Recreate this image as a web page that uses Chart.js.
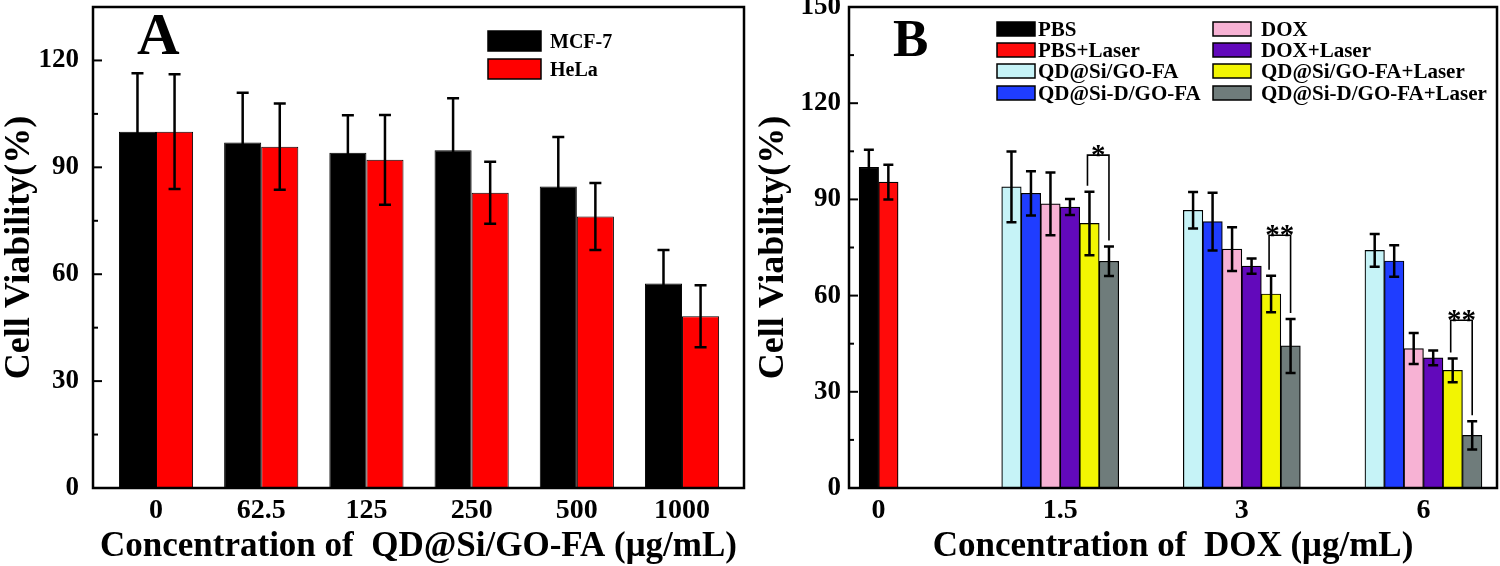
<!DOCTYPE html>
<html>
<head>
<meta charset="utf-8">
<script src="https://cdn.jsdelivr.net/npm/chart.js@4.4.1/dist/chart.umd.min.js"></script>
<style>
  html, body { margin: 0; padding: 0; background: #fff; }
  #wrap { position: relative; width: 1500px; height: 566px; }
  canvas { position: absolute; top: 0; }
  #chartA { left: 0; }
  #chartB { left: 750px; }
</style>
</head>
<body>
<div id="wrap">
  <canvas id="chartA" width="750" height="566"></canvas>
  <canvas id="chartB" width="750" height="566"></canvas>
</div>
<script>
// ---- panel A data ----
const concA = ['0', '62.5', '125', '250', '500', '1000'];
const mcf7 = [100, 97, 94.1, 94.8, 84.6, 57.4];
const mcf7Err = [16.4, 13.9, 10.5, 14.6, 13.9, 9.4];
const hela = [100, 95.8, 92.1, 82.9, 76.2, 48.2];
const helaErr = [16.1, 12.1, 12.6, 8.7, 9.4, 8.7];
const yTicksA = [0, 30, 60, 90, 120];

// ---- panel B data ----
const concB = ['0', '1.5', '3', '6'];
const labelsB = ['PBS', 'PBS+Laser', 'QD@Si/GO-FA', 'QD@Si-D/GO-FA',
  'DOX', 'DOX+Laser', 'QD@Si/GO-FA+Laser', 'QD@Si-D/GO-FA+Laser'];
const pbs = [100, null, null, null];
const pbsLaser = [95.4, null, null, null];
const qdSi = [null, 93.9, 86.6, 74.1];
const qdSiD = [null, 91.9, 83.1, 70.8];
const dox = [null, 88.6, 74.5, 43.5];
const doxLaser = [null, 87.6, 69.2, 40.6];
const qdSiLaser = [null, 82.5, 60.5, 36.7];
const qdSiDLaser = [null, 70.7, 44.3, 16.4];
const pbsErr = [5.5, null, null, null];
const pbsLaserErr = [5.4, null, null, null];
const qdSiErr = [null, 11, 5.7, 5.1];
const qdSiDErr = [null, 6.9, 9.0, 4.9];
const doxErr = [null, 9.8, 6.8, 4.8];
const doxLaserErr = [null, 2.5, 2.4, 2.3];
const qdSiLaserErr = [null, 9.9, 5.7, 3.7];
const qdSiDLaserErr = [null, 4.6, 8.4, 4.4];
const yTicksB = [0, 30, 60, 90, 120, 150];
// significance brackets: group index, bracket height, label
const sigGroups = [1, 2, 3];
const sigHeights = [103.8, 78.8, 52.3];
const sigLabels = ['*', '**', '**'];

const SERIF = '"Liberation Serif", "Times New Roman", serif';
const colorsA = ['#000000', '#ff0000'];
const colorsB = ['#000000', '#ff0a0a', '#c6f3f7', '#1f3dff',
  '#f7b2d4', '#6209bb', '#f2f502', '#6f7c7b'];

// error bars drawn on top of bars
const errorBars = {
  id: 'errorBars',
  afterDatasetsDraw(chart, args, opts) {
    const { ctx } = chart;
    const y = chart.scales.y;
    ctx.save();
    ctx.strokeStyle = '#000';
    ctx.lineWidth = opts.lineWidth;
    chart.data.datasets.forEach((ds, di) => {
      const meta = chart.getDatasetMeta(di);
      meta.data.forEach((bar, i) => {
        const v = ds.data[i].y, e = ds.errors[i];
        if (v == null || e == null) return;
        const top = y.getPixelForValue(v + e);
        const bot = y.getPixelForValue(v - e);
        const c = opts.cap / 2;
        ctx.beginPath();
        ctx.moveTo(bar.x, top); ctx.lineTo(bar.x, bot);
        ctx.moveTo(bar.x - c, top); ctx.lineTo(bar.x + c, top);
        ctx.moveTo(bar.x - c, bot); ctx.lineTo(bar.x + c, bot);
        ctx.stroke();
      });
    });
    ctx.restore();
  }
};

// box frame, inward ticks, legend and panel letter
const frame = {
  id: 'frame',
  afterDraw(chart, args, opts) {
    const { ctx, chartArea: a } = chart;
    const y = chart.scales.y;
    ctx.save();
    ctx.strokeStyle = '#000';
    ctx.lineWidth = 2.5;
    ctx.strokeRect(a.left, a.top, a.right - a.left, a.bottom - a.top);

    ctx.lineWidth = 2;
    const majors = opts.ticks;
    const step = majors[1] - majors[0];
    majors.forEach(v => {
      const py = y.getPixelForValue(v);
      ctx.beginPath(); ctx.moveTo(a.left, py); ctx.lineTo(a.left + 9, py); ctx.stroke();
      const m = v + step / 2;
      if (m < y.max) {
        const pm = y.getPixelForValue(m);
        ctx.beginPath(); ctx.moveTo(a.left, pm); ctx.lineTo(a.left + 5, pm); ctx.stroke();
      }
    });

    // legend
    const L = opts.legend;
    ctx.font = 'bold ' + L.font + 'px ' + SERIF;
    ctx.textAlign = 'left';
    ctx.textBaseline = 'alphabetic';
    chart.data.datasets.forEach((ds, i) => {
      const col = Math.floor(i / L.rows.length);
      const row = i % L.rows.length;
      const cy = L.rows[row];
      ctx.fillStyle = ds.backgroundColor;
      ctx.fillRect(L.boxX[col], cy - L.boxH / 2, L.boxW, L.boxH);
      ctx.lineWidth = 1.5;
      ctx.strokeStyle = '#000';
      ctx.strokeRect(L.boxX[col], cy - L.boxH / 2, L.boxW, L.boxH);
      ctx.fillStyle = '#000';
      ctx.fillText(ds.label, L.textX[col], cy + L.font * 0.33);
    });

    // panel letter
    ctx.font = 'bold ' + opts.letterSize + 'px ' + SERIF;
    ctx.fillText(opts.letter, opts.letterX, opts.letterY);
    ctx.restore();
  }
};

// significance brackets for panel B
const brackets = {
  id: 'brackets',
  afterDatasetsDraw(chart) {
    const { ctx } = chart;
    const y = chart.scales.y;
    const dsA = chart.data.datasets[6], dsB = chart.data.datasets[7];
    const mA = chart.getDatasetMeta(6), mB = chart.getDatasetMeta(7);
    ctx.save();
    ctx.strokeStyle = '#000';
    ctx.lineWidth = 1.6;
    sigGroups.forEach((g, k) => {
      const xa = mA.data[g].x - 2, xb = mB.data[g].x;
      const ya = y.getPixelForValue(dsA.data[g].y + dsA.errors[g]) - 6;
      const yb = y.getPixelForValue(dsB.data[g].y + dsB.errors[g]) - 6;
      const yt = y.getPixelForValue(sigHeights[k]);
      ctx.beginPath();
      ctx.moveTo(xa, ya); ctx.lineTo(xa, yt); ctx.lineTo(xb, yt); ctx.lineTo(xb, yb);
      ctx.stroke();
      ctx.fillStyle = '#000';
      ctx.font = 'bold 29px ' + SERIF;
      ctx.textAlign = 'center';
      ctx.textBaseline = 'alphabetic';
      ctx.fillText(sigLabels[k], (xa + xb) / 2, yt + 9);
    });
    ctx.restore();
  }
};

function axisFont(size) {
  return { family: SERIF, weight: 'bold', size: size };
}

function makeOptions(cfg) {
  return {
    responsive: false,
    animation: false,
    layout: { padding: { top: 7, right: cfg.right, left: 0, bottom: 0 } },
    plugins: {
      legend: { display: false },
      tooltip: { enabled: false },
      errorBars: { lineWidth: 2.5, cap: cfg.cap },
      frame: cfg.frame
    },
    scales: {
      x: {
        type: 'linear',
        offset: false,
        min: cfg.xMin,
        max: cfg.xMax,
        grid: { display: false, drawTicks: false, offset: false },
        border: { display: false },
        afterBuildTicks: s => { s.ticks = cfg.cats.map((_, i) => ({ value: i })); },
        afterFit: s => { s.height = 78; s.paddingLeft = 0; s.paddingRight = 0; },
        ticks: {
          color: '#000',
          font: axisFont(28),
          padding: 6,
          maxRotation: 0,
          callback: v => cfg.cats[v]
        },
        title: {
          display: true,
          text: cfg.xTitle,
          color: '#000',
          font: { family: SERIF, weight: 'bold', size: 35, lineHeight: 1.1 },
          padding: { top: 0, bottom: 0 }
        }
      },
      y: {
        min: 0,
        max: cfg.yMax,
        grid: { display: false, drawTicks: false },
        border: { display: false },
        afterBuildTicks: s => { s.ticks = cfg.yTicks.map(v => ({ value: v })); },
        afterFit: s => { s.width = cfg.yWidth; s.paddingTop = 0; s.paddingBottom = 0; },
        ticks: { color: '#000', font: axisFont(27), padding: cfg.yPad },
        title: {
          display: true,
          text: 'Cell Viability(%)',
          color: '#000',
          font: { family: SERIF, weight: 'bold', size: 36, lineHeight: 1.1 },
          padding: { top: cfg.yTitlePad, bottom: 0 }
        }
      }
    }
  };
}

function points(values) {
  return values.map((v, i) => ({ x: i, y: v }));
}

// ---- chart A ----
new Chart(document.getElementById('chartA'), {
  type: 'bar',
  data: {
    datasets: [
      { label: 'MCF-7', data: points(mcf7), errors: mcf7Err, backgroundColor: colorsA[0] },
      { label: 'HeLa', data: points(hela), errors: helaErr, backgroundColor: colorsA[1] }
    ].map(d => Object.assign(d, {
      borderColor: '#000', borderWidth: 1, barPercentage: 1, categoryPercentage: 0.705
    }))
  },
  options: makeOptions({
    right: 6, cap: 12, xMin: -0.599, xMax: 5.589, cats: concA,
    xTitle: 'Concentration of  QD@Si/GO-FA (\u03bcg/mL)',
    yMax: 135, yTicks: yTicksA, yWidth: 93, yPad: 14, yTitlePad: 0,
    frame: {
      ticks: yTicksA, letter: 'A', letterSize: 59, letterX: 137, letterY: 54,
      legend: { font: 20, rows: [41, 69], boxX: [488], textX: [550], boxW: 53, boxH: 20 }
    }
  }),
  plugins: [errorBars, frame]
});

// ---- chart B ----
const seriesB = [pbs, pbsLaser, qdSi, qdSiD, dox, doxLaser, qdSiLaser, qdSiDLaser];
const errorsB = [pbsErr, pbsLaserErr, qdSiErr, qdSiDErr, doxErr, doxLaserErr, qdSiLaserErr, qdSiDLaserErr];

new Chart(document.getElementById('chartB'), {
  type: 'bar',
  data: {
    datasets: seriesB.map((s, i) => ({
      label: labelsB[i],
      data: points(s),
      errors: errorsB[i],
      backgroundColor: colorsB[i],
      borderColor: '#000',
      borderWidth: 1.2,
      barThickness: 19.5,
      skipNull: true
    }))
  },
  options: makeOptions({
    right: 3, cap: 10, xMin: -0.163, xMax: 3.405, cats: concB,
    xTitle: 'Concentration of  DOX (\u03bcg/mL)',
    yMax: 150, yTicks: yTicksB, yWidth: 99, yPad: 8, yTitlePad: 4,
    frame: {
      ticks: yTicksB, letter: 'B', letterSize: 53, letterX: 143, letterY: 56,
      legend: { font: 21, rows: [29, 50, 71, 93], boxX: [247, 463], textX: [288, 511], boxW: 38, boxH: 14 }
    }
  }),
  plugins: [errorBars, brackets, frame]
});
</script>
</body>
</html>
